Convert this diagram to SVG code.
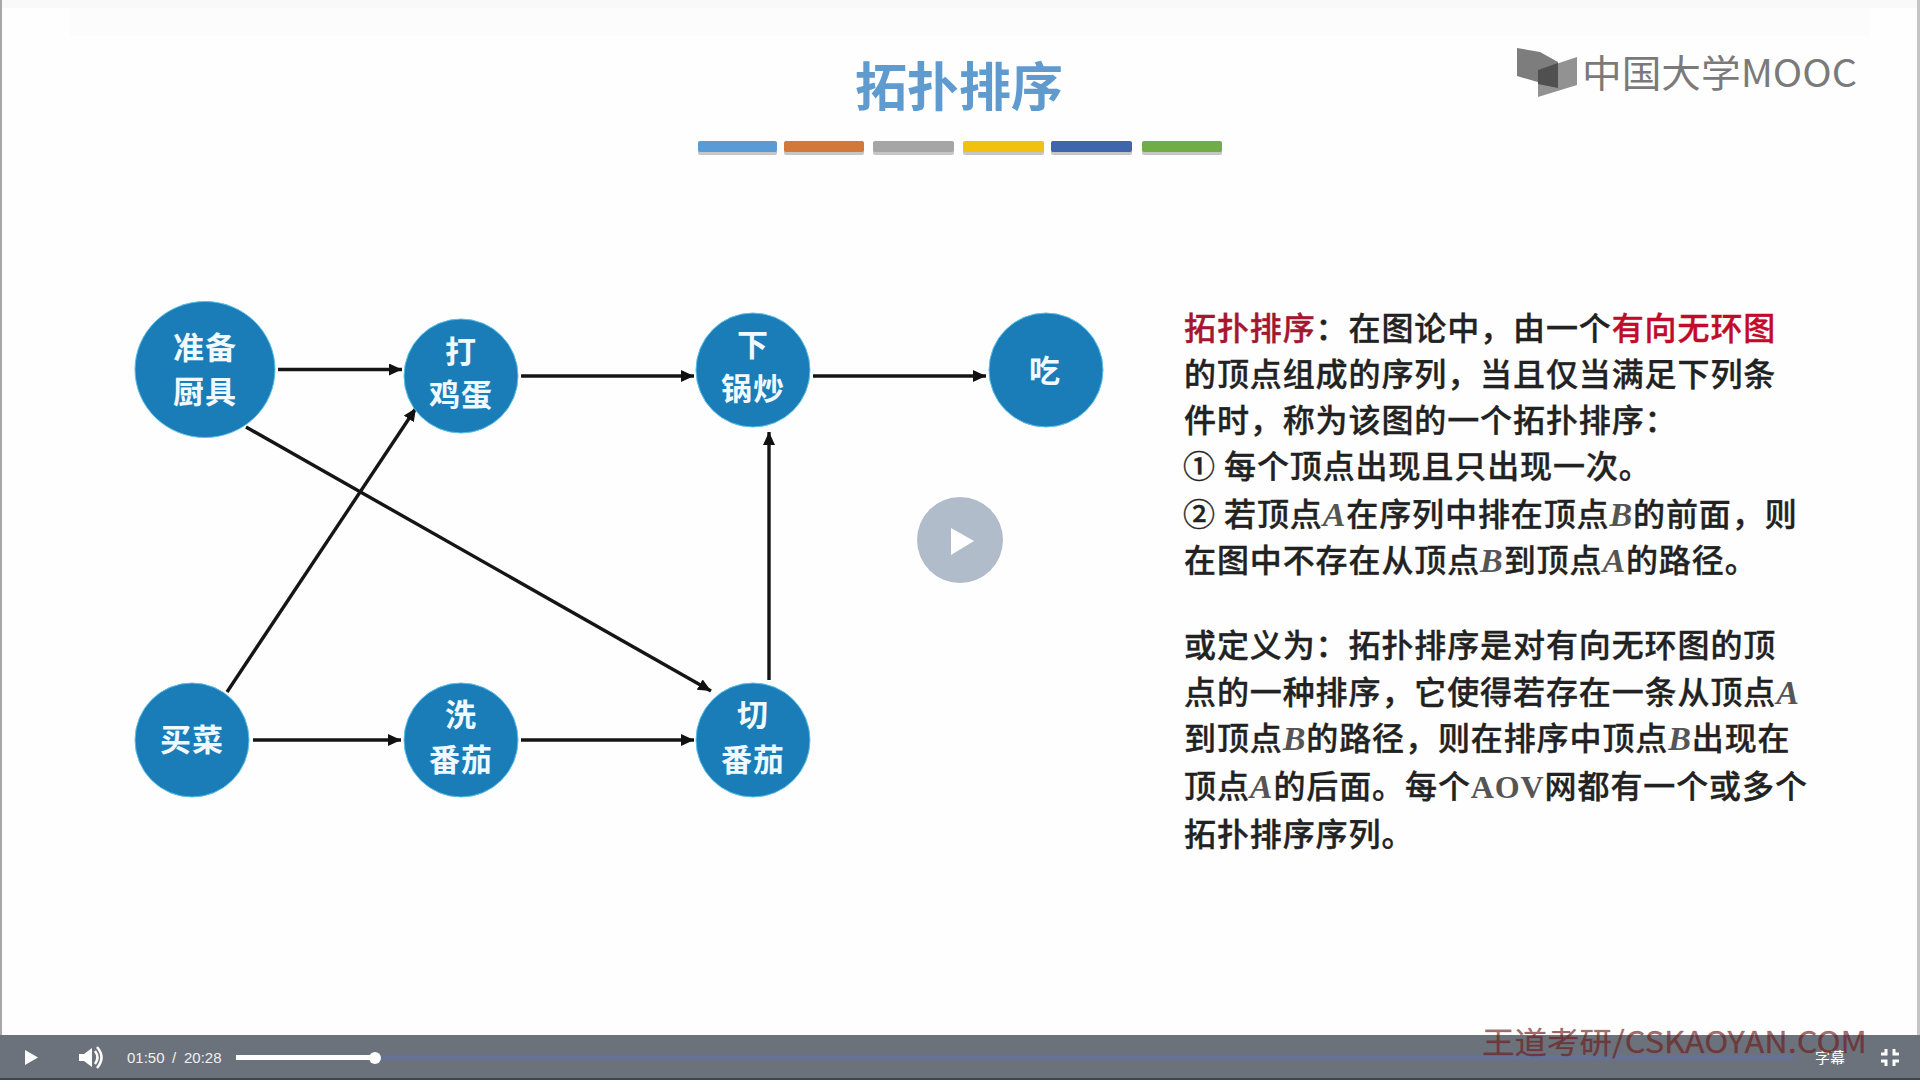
<svg xmlns="http://www.w3.org/2000/svg" width="1920" height="1080" viewBox="0 0 1920 1080">
<style>
.cjk{font-family:"Noto Sans CJK SC","Noto Sans",sans-serif}
.node{fill:#1a7db8;stroke:#5bc0e8;stroke-width:1}
.nt{font-family:"Noto Sans CJK SC",sans-serif;font-size:31px;font-weight:700;fill:#f0f9ff;text-anchor:middle;letter-spacing:1px}
.edge{stroke:#151515;stroke-width:3.4;fill:none;marker-end:url(#ah)}
.para{font-family:"Noto Sans CJK SC",sans-serif;font-size:32px;font-weight:500;fill:#222;stroke:#222;stroke-width:.35px;letter-spacing:.9px}
.r1{fill:#a5162f;stroke:#a5162f}.r2{fill:#c20a2a;stroke:#c20a2a}
.l{font-family:"Liberation Serif",serif;font-style:italic;font-weight:700;fill:#555;stroke:none;font-size:34px}
.aov{font-family:"Liberation Serif",serif;font-weight:700;fill:#555;stroke:none;font-size:32px}
.ui{font-family:"Liberation Sans",sans-serif;font-size:15px;fill:#f0f0f0}
</style>
<defs><marker id="ah" markerUnits="userSpaceOnUse" markerWidth="14" markerHeight="12" refX="13" refY="6" orient="auto"><path d="M0 0L13 6L0 12Z" fill="#111"/></marker></defs>
<rect width="1920" height="1080" fill="#fefefe"/>
<rect x="70" y="8" width="1800" height="28" fill="#fcfcfc"/>
<rect width="1920" height="8" fill="#f9f9f9"/>
<rect x="0" width="2" height="1035" fill="#a8a8a8"/>
<rect x="1917" width="3" height="1035" fill="#c4c4c4"/>
<g id="title"><text x="959" y="106" class="cjk" font-size="52" font-weight="700" fill="#5f9bce" text-anchor="middle">拓扑排序</text>
<g fill="#b9b9b9" opacity=".8"><rect x="698" y="144" width="79" height="11" rx="2"/><rect x="784" y="144" width="80" height="11" rx="2"/><rect x="873" y="144" width="81" height="11" rx="2"/><rect x="963" y="144" width="81" height="11" rx="2"/><rect x="1051" y="144" width="81" height="11" rx="2"/><rect x="1142" y="144" width="80" height="11" rx="2"/></g>
<rect x="698" y="141" width="79" height="11" rx="2" fill="#5b9bd5"/><rect x="784" y="141" width="80" height="11" rx="2" fill="#d2783a"/><rect x="873" y="141" width="81" height="11" rx="2" fill="#a5a5a5"/><rect x="963" y="141" width="81" height="11" rx="2" fill="#f2c10f"/><rect x="1051" y="141" width="81" height="11" rx="2" fill="#3f66ad"/><rect x="1142" y="141" width="80" height="11" rx="2" fill="#70ad47"/></g>
<g id="logo"><path d="M1517 48L1540 52L1558 62V88L1517 76Z" fill="#7d7d7d"/><path d="M1538 70L1577 57V85L1538 97Z" fill="#929292"/><path d="M1538 70L1558 63V88L1538 84Z" fill="#505050"/><text x="1582" y="87" class="cjk" font-size="38" font-weight="400" fill="#7a7a7a" textLength="275" lengthAdjust="spacingAndGlyphs">中国大学MOOC</text></g>
<g id="connectors">
<path class="edge" d="M278 369.5H402"/><path class="edge" d="M521 376H694"/><path class="edge" d="M813 376H986"/><path class="edge" d="M253 740H401"/><path class="edge" d="M521 740H694"/><path class="edge" d="M769 680V432"/><path class="edge" d="M227 692L416 408"/><path class="edge" d="M246 427L711 691"/>
</g>
<g id="n1"><ellipse class="node" cx="205" cy="369.5" rx="70" ry="68"/><text class="nt" x="205" y="359">准备</text><text class="nt" x="205" y="403">厨具</text></g>
<g id="n2"><circle class="node" cx="461" cy="376" r="57"/><text class="nt" x="461" y="363">打</text><text class="nt" x="461" y="406">鸡蛋</text></g>
<g id="n3"><circle class="node" cx="753" cy="370" r="57"/><text class="nt" x="753" y="356">下</text><text class="nt" x="753" y="400">锅炒</text></g>
<g id="n4"><circle class="node" cx="1046" cy="370" r="57"/><text class="nt" x="1045" y="382">吃</text></g>
<g id="n5"><circle class="node" cx="192" cy="740" r="57"/><text class="nt" x="192" y="751">买菜</text></g>
<g id="n6"><circle class="node" cx="461" cy="740" r="57"/><text class="nt" x="461" y="726">洗</text><text class="nt" x="461" y="771">番茄</text></g>
<g id="n7"><circle class="node" cx="753" cy="740" r="57"/><text class="nt" x="753" y="726">切</text><text class="nt" x="753" y="771">番茄</text></g>
<g id="text">
<text class="para" x="1184" y="340"><tspan class="r1">拓扑排序</tspan>：在图论中，由一个<tspan class="r2">有向无环图</tspan></text>
<text class="para" x="1184" y="386">的顶点组成的序列，当且仅当满足下列条</text>
<text class="para" x="1184" y="432">件时，称为该图的一个拓扑排序：</text>
<text class="para" x="1183" y="478">① <tspan x="1224">每个顶点出现且只出现一次。</tspan></text>
<text class="para" x="1183" y="526">② <tspan x="1224">若顶点</tspan><tspan class="l">A</tspan>在序列中排在顶点<tspan class="l">B</tspan>的前面，则</text>
<text class="para" x="1184" y="572">在图中不存在从顶点<tspan class="l">B</tspan>到顶点<tspan class="l">A</tspan>的路径。</text>
<text class="para" x="1184" y="657">或定义为：拓扑排序是对有向无环图的顶</text>
<text class="para" x="1184" y="704">点的一种排序，它使得若存在一条从顶点<tspan class="l">A</tspan></text>
<text class="para" x="1184" y="750">到顶点<tspan class="l">B</tspan>的路径，则在排序中顶点<tspan class="l">B</tspan>出现在</text>
<text class="para" x="1184" y="798">顶点<tspan class="l">A</tspan>的后面。每个<tspan class="aov">AOV</tspan>网都有一个或多个</text>
<text class="para" x="1184" y="846">拓扑排序序列。</text>
</g>
<g id="bigplay"><circle cx="960" cy="540" r="43" fill="#b1bccb"/><path d="M951 528L974 541L951 555Z" fill="#fff"/></g>
<g id="bar"><rect y="1035" width="1920" height="45" fill="#6b727b"/><rect y="1078" width="1920" height="2" fill="#3f454c"/>
<path d="M25 1050L38 1057.5L25 1065Z" fill="#fff"/>
<path d="M79 1054H84L92 1048V1067L84 1061H79Z" fill="#fff"/><path d="M95 1051Q100 1057.5 95 1064M97 1047Q106 1057.5 97 1068" stroke="#fff" stroke-width="2.5" fill="none"/>
<text class="ui" x="127" y="1063">01:50</text><text class="ui" x="172" y="1063">/</text><text class="ui" x="184" y="1063">20:28</text>
<rect x="375" y="1055" width="1418" height="5" fill="#647295"/><rect x="236" y="1055" width="139" height="5" fill="#fff"/><circle cx="375" cy="1058" r="6" fill="#fff"/>
<text x="1815" y="1063" class="cjk" font-size="15" fill="#fff">字幕</text>
<path d="M1886 1049V1054H1881M1894 1049V1054H1899M1886 1066V1061H1881M1894 1066V1061H1899" stroke="#fff" stroke-width="3" fill="none"/></g>
<g id="watermark"><text x="1482" y="1053" class="cjk" font-size="30" fill="#6e1a1a" fill-opacity=".65" stroke="#6e1a1a" stroke-opacity=".4" stroke-width=".4" textLength="385" lengthAdjust="spacingAndGlyphs">王道考研/CSKAOYAN.COM</text></g>
</svg>
